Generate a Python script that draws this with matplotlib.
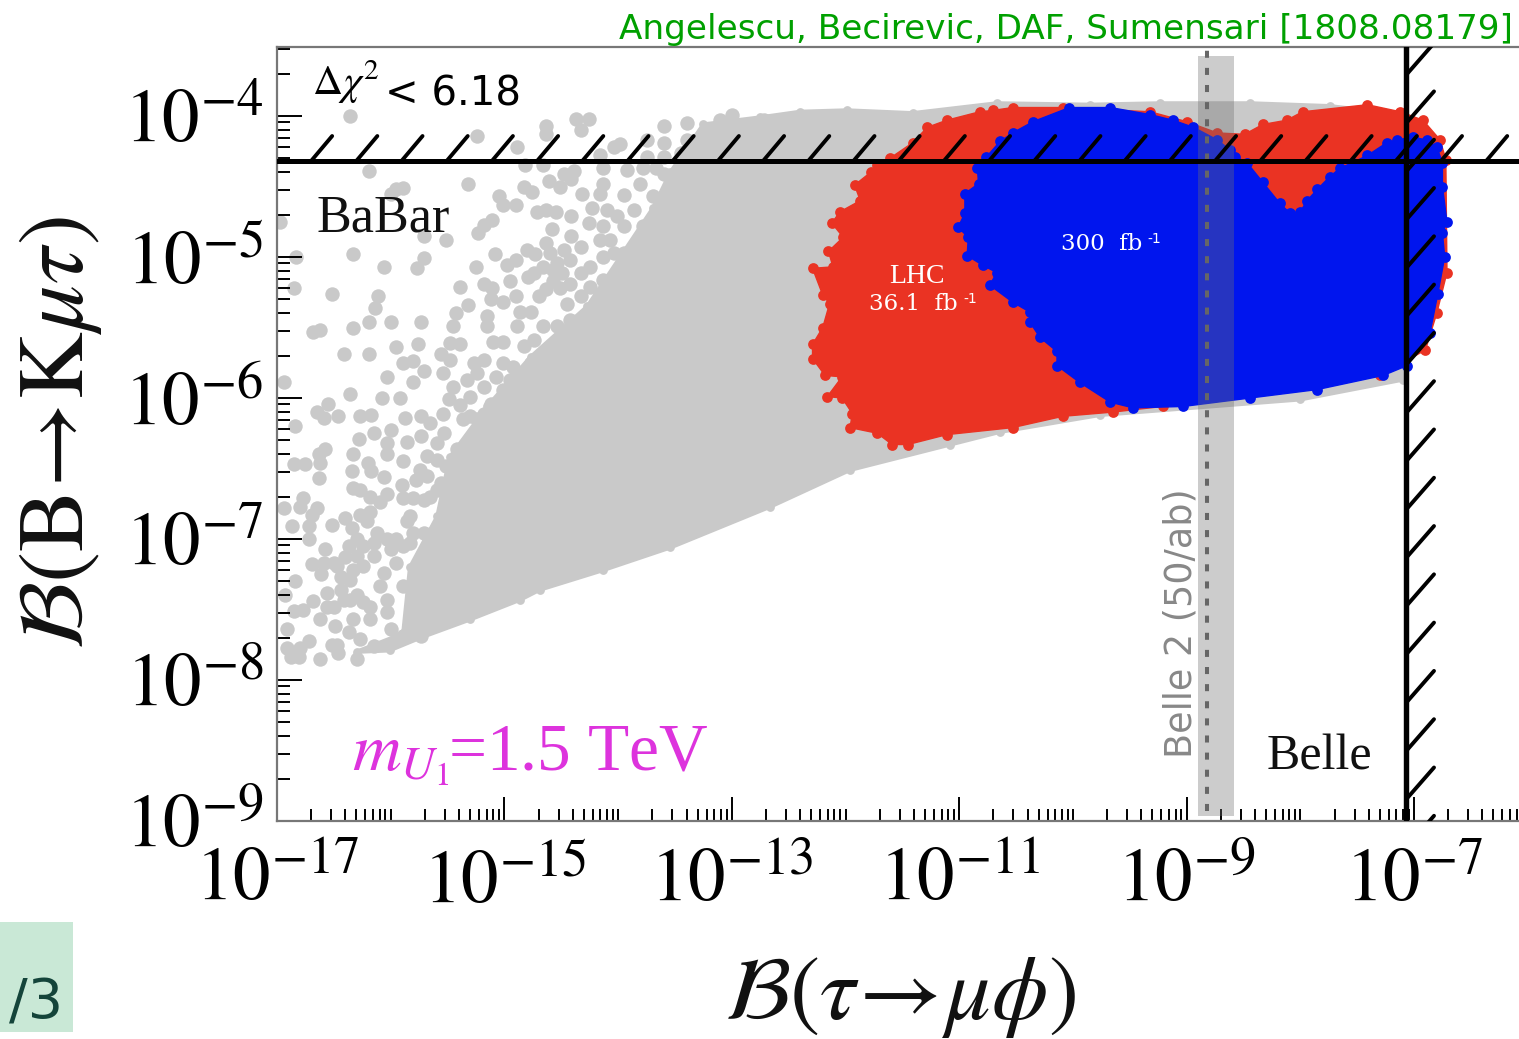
import numpy as np
import matplotlib
matplotlib.use("Agg")
import matplotlib.pyplot as plt
from matplotlib.patches import Rectangle
from matplotlib.transforms import ScaledTranslation

# ---- values, all as log10 of the branching ratios ----
gray_region_x = [-16.30,-16.01,-15.74,-15.30,-14.86,-14.69,-14.13,-13.54,-12.66,-11.96,-11.08,-10.64,-9.76,-8.00,-7.10,-7.12,-7.74,-8.44,-9.23,-9.85,-10.67,-11.41,-11.99,-12.40,-12.75,-13.25,-13.54,-13.69,-13.98,-14.27,-14.77,-15.15,-15.48,-15.59,-15.83,-15.89]
gray_region_y = [-7.80,-7.79,-7.70,-7.57,-7.43,-7.36,-7.22,-7.06,-6.77,-6.51,-6.33,-6.24,-6.12,-6.01,-5.87,-3.99,-3.93,-3.91,-3.91,-3.92,-3.91,-3.98,-3.96,-3.97,-4.01,-4.06,-4.40,-4.65,-5.00,-5.35,-5.71,-6.06,-6.42,-6.84,-7.20,-7.67]

gray_dots_x = [-16.36,-15.24,-14.89,-14.63,-14.63,-14.37,-14.26,-14.33,-16.19,-15.32,-15.95,-15.89,-16.00,-15.05,-15.01,-14.90,-14.83,-14.76,-14.61,-14.51,-14.48,-14.39,-14.41,-14.16,-14.04,-13.98,-14.82,-14.66,-14.13,-13.92,-13.78,-13.67,-14.13,-14.32,-14.23,-13.95,-14.16,-13.81,-14.71,-14.63,-14.55,-15.18,-15.11,-15.23,-15.71,-15.51,-14.58,-14.41,-14.26,-14.10,-14.01,-14.41,-14.16,-14.07,-14.63,-14.60,-15.08,-14.98,-14.90,-14.80,-14.73,-16.33,-15.71,-15.77,-16.06,-15.25,-14.79,-14.95,-15.18,-15.11,-15.39,-14.57,-14.49,-14.42,-14.25,-14.04,-16.52,-16.11,-16.85,-15.12,-15.01,-14.90,-14.70,-14.63,-14.51,-15.32,-15.43,-16.14,-16.19,-16.33,-16.00,-15.73,-16.68,-16.62,-15.15,-15.15,-14.86,-14.77,-15.45,-14.89,-15.01,-15.10,-14.66,-14.54,-14.45,-14.42,-15.95,-15.76,-16.41,-16.19,-15.48,-15.39,-15.56,-15.48,-15.18,-15.27,-14.92,-14.74,-14.83,-15.80,-15.89,-16.03,-15.71,-15.80,-15.54,-15.33,-15.45,-15.18,-16.36,-16.08,-15.92,-15.49,-16.55,-15.39,-16.65,-16.46,-16.59,-16.27,-16.17,-15.87,-15.73,-16.94,-15.01,-15.12,-14.80,-14.89,-14.54,-14.66,-14.57,-14.29,-14.10,-14.13,-14.42,-14.13,-16.97,-16.83,
-16.84,-16.15,-16.00,-16.28,-16.03,-15.86,-15.73,-15.59,-16.58,-16.63,-16.85,-16.75,-16.62,-16.33,-16.34,-16.20,-16.03,-15.89,-15.78,-16.17,-16.06,-16.63,-16.33,-16.27,-15.90,-15.89,-15.80,-16.03,-16.77,-16.80,-16.94,-16.65,-16.69,-16.09,-16.18,-16.27,-16.40,-16.52,-16.72,-16.87,-15.86,-16.03,-16.21,-16.12,-16.34,-16.72,-16.58,-16.37,-16.30,-16.40,-16.69,-16.59,-16.50,-16.61,-16.33,-16.44,-16.24,-16.84,-16.15,-16.06,-15.95,-16.56,-16.68,-16.85,-16.77,-16.93,-16.41,-16.62,-16.49,-16.91,-16.33,-16.18,-16.03,-16.72,-16.80,-16.91,-16.88,-16.81,-16.47,-16.52,-16.46,-16.62,-16.30,-16.37,-16.27,-16.15,-16.00,-15.89,-15.73,-16.03,-15.77,-15.65,-15.65,-15.59,-15.48,-15.48,-15.71,-15.89,-16.18,-15.83,-16.36,
-13.60,-13.39,-13.25,-13.10,-13.00,-12.84,-12.72,-13.60,-13.45,-13.10,-12.95,-13.75,
-15.53,-15.36,-15.30,-15.42,-15.51,-15.68,-15.74,-15.33,-15.24,-15.12,-15.59,-15.68,-15.71,-15.56,-15.83,-15.95,-15.80,-15.71,-15.89,-16.00,-16.24,-16.09,-16.30,-16.18,-16.36,-16.50,-16.56,-16.44,-16.24,-16.47,-16.30,-16.15,
-14.13,-13.95,-13.86,-13.69,-13.78,-13.95,-14.13,-14.33,-14.48,-14.54,-14.33,-14.66,-14.74,-14.57,-14.25,-14.33,-14.01,-14.01,-14.25,-13.98,-14.25,-14.42,-14.77,-15.01,-15.07,-15.24,-14.95,-14.71,-15.30,-15.18,-15.01,-14.83,-15.30,-15.54,-15.65,-14.63,-14.45,-14.33,-14.13,-13.83,-13.83,-13.60,-13.45,-13.25,-13.39,-13.13,-12.87,-12.66,-13.60,-13.75,-13.34]
gray_dots_y = [-4.00,-4.14,-4.22,-4.07,-4.13,-4.02,-4.02,-4.10,-4.39,-4.48,-4.52,-4.51,-4.55,-4.57,-4.63,-4.63,-4.50,-4.54,-4.46,-4.50,-4.41,-4.39,-4.45,-4.28,-4.22,-4.20,-4.35,-4.35,-4.37,-4.38,-4.37,-4.37,-4.48,-4.55,-4.65,-4.56,-4.55,-4.48,-4.68,-4.67,-4.68,-4.77,-4.74,-4.83,-4.85,-4.88,-4.80,-4.71,-4.76,-4.67,-4.71,-4.85,-4.88,-4.88,-4.90,-4.97,-4.98,-5.06,-5.02,-4.95,-4.98,-4.98,-5.01,-5.08,-5.07,-5.07,-5.14,-5.17,-5.19,-5.22,-5.21,-5.17,-5.11,-5.02,-5.07,-4.97,-5.26,-5.28,-5.22,-5.30,-5.32,-5.28,-5.28,-5.23,-5.22,-5.34,-5.40,-5.36,-5.46,-5.50,-5.46,-5.46,-5.53,-5.52,-5.42,-5.49,-5.39,-5.39,-5.49,-5.49,-5.60,-5.60,-5.49,-5.49,-5.33,-5.45,-5.64,-5.62,-5.69,-5.69,-5.61,-5.62,-5.69,-5.73,-5.73,-5.75,-5.78,-5.59,-5.63,-5.74,-5.75,-5.85,-5.81,-5.89,-5.82,-5.87,-5.92,-5.92,-5.97,-6.00,-6.00,-6.01,-6.04,-6.05,-6.10,-6.13,-6.14,-6.13,-6.12,-6.14,-6.13,-5.89,-5.94,-6.04,-5.87,-5.99,-5.82,-5.87,-5.63,-5.61,-5.33,-5.16,-5.19,-5.47,-4.75,-5.00,
-6.20,-6.25,-6.23,-6.29,-6.32,-6.31,-6.27,-6.32,-6.36,-6.40,-6.47,-6.47,-6.46,-6.40,-6.52,-6.46,-6.40,-6.45,-6.58,-6.52,-6.56,-6.57,-6.64,-6.65,-6.62,-6.71,-6.71,-6.68,-6.71,-6.77,-6.78,-6.78,-6.83,-6.74,-6.81,-6.83,-6.85,-6.90,-6.91,-6.91,-6.87,-7.00,-6.87,-6.96,-6.92,-7.00,-7.07,-7.05,-7.00,-7.13,-7.18,-7.17,-7.17,-7.25,-7.22,-7.27,-7.19,-7.30,-7.12,-7.24,-7.17,-7.38,-7.44,-7.51,-7.50,-7.40,-7.43,-7.57,-7.62,-7.64,-7.57,-7.48,-7.52,-7.72,-7.77,-7.77,-7.84,-7.84,-7.75,-7.75,-7.81,-7.85,-7.85,-7.66,-7.71,-7.76,-7.64,-7.69,-7.69,-7.43,-7.43,-7.05,-6.70,-6.65,-6.48,-6.72,-6.96,-7.33,-6.70,-7.03,-7.29,
-4.07,-4.05,-4.13,-4.03,-3.99,-4.07,-4.03,-4.19,-4.26,-4.15,-4.12,-4.17,
-6.25,-6.15,-6.29,-6.36,-6.48,-6.41,-6.51,-6.46,-6.15,-6.29,-6.44,-6.55,-6.72,-6.60,-6.84,-7.00,-6.96,-7.10,-7.05,-7.07,-7.05,-7.33,-7.40,-7.57,-7.43,-7.48,-7.48,-7.36,-7.45,-7.19,-7.12,-7.03,
-4.78,-4.78,-4.67,-4.57,-4.78,-4.97,-5.00,-4.93,-4.95,-5.04,-5.11,-5.07,-5.11,-5.09,-5.21,-5.28,-5.11,-5.28,-5.42,-5.49,-5.61,-5.71,-5.75,-5.75,-5.85,-5.82,-5.87,-5.97,-5.99,-6.11,-6.11,-6.13,-6.13,-6.11,-6.18,-6.08,-5.94,-5.80,-5.73,-5.11,-4.93,-4.41,-4.45,-4.43,-4.17,-4.24,-4.24,-4.17,-4.29,-4.29,-4.33]

red_x = [-10.70,-10.53,-10.09,-9.32,-9.00,-8.73,-8.49,-8.33,-8.12,-7.98,-7.41,-7.12,-6.92,-6.77,-6.72,-6.71,-6.80,-6.90,-7.30,-8.44,-9.21,-9.65,-10.09,-10.53,-11.11,-11.45,-11.59,-11.72,-11.96,-11.94,-12.03,-12.16,-12.03,-12.18,-12.29,-12.29,-12.20,-12.14,-12.20,-12.29,-12.11,-12.15,-12.02,-12.12,-12.05,-11.87,-11.92,-11.78,-11.72,-11.61,-11.41,-11.28,-11.11,-10.82]
red_y = [-3.96,-3.94,-3.94,-3.97,-4.04,-4.12,-4.13,-4.06,-4.03,-3.97,-3.92,-3.97,-4.03,-4.17,-4.31,-5.11,-5.40,-5.66,-5.84,-5.98,-6.06,-6.10,-6.13,-6.21,-6.26,-6.33,-6.33,-6.25,-6.21,-6.11,-6.00,-5.99,-5.85,-5.84,-5.72,-5.62,-5.50,-5.33,-5.27,-5.08,-5.07,-4.96,-4.86,-4.76,-4.68,-4.60,-4.49,-4.40,-4.35,-4.30,-4.19,-4.08,-4.03,-3.97]

blue_x = [-10.03,-9.67,-9.32,-9.12,-8.94,-8.73,-8.62,-8.57,-8.47,-8.33,-8.18,-8.09,-8.00,-7.94,-7.85,-7.74,-7.65,-7.54,-7.41,-7.24,-7.15,-7.01,-6.89,-6.80,-6.75,-6.75,-6.71,-6.75,-6.73,-6.79,-6.86,-7.06,-7.27,-7.85,-8.44,-9.03,-9.47,-9.67,-9.94,-10.14,-10.14,-10.29,-10.38,-10.38,-10.53,-10.73,-10.67,-10.79,-10.93,-10.92,-11.01,-10.95,-10.95,-10.83,-10.84,-10.76,-10.64,-10.53,-10.35]
blue_y = [-3.94,-3.94,-3.99,-4.03,-4.08,-4.17,-4.24,-4.29,-4.33,-4.47,-4.62,-4.69,-4.68,-4.60,-4.52,-4.43,-4.37,-4.33,-4.28,-4.19,-4.17,-4.15,-4.17,-4.22,-4.33,-4.50,-4.75,-4.83,-5.00,-5.26,-5.54,-5.77,-5.84,-5.94,-6.00,-6.06,-6.07,-6.03,-5.89,-5.77,-5.67,-5.57,-5.46,-5.39,-5.32,-5.20,-5.11,-5.06,-4.99,-4.86,-4.79,-4.69,-4.55,-4.48,-4.37,-4.29,-4.18,-4.12,-4.04]

babar_limit = -4.319
belle_limit = -7.07
belle2_reach = -8.82
belle2_band = [-8.90, -8.583]
belle2_span = [-8.965, -3.574]

x_major_exp = [-17, -15, -13, -11, -9, -7]
y_major_exp = [-9, -8, -7, -6, -5, -4]
x_tick_labels = ['$10^{-17}$', '$10^{-15}$', '$10^{-13}$', '$10^{-11}$', '$10^{-9}$', '$10^{-7}$']
y_tick_labels = ['$10^{-9}$', '$10^{-8}$', '$10^{-7}$', '$10^{-6}$', '$10^{-5}$', '$10^{-4}$']

# ---- page ----
W, H = 1519, 1039
plt.rcParams['mathtext.fontset'] = 'stix'
plt.rcParams['font.family'] = ['Liberation Serif', 'DejaVu Sans']
fig = plt.figure(figsize=(W / 100, H / 100), dpi=100)
ax = fig.add_axes([277 / W, 1 - 821 / H, (W - 277) / W, (821 - 47) / H])
ax.set_xscale('log')
ax.set_yscale('log')


def P(v):
    return 10.0 ** np.asarray(v)


GRAY, RED, BLUE = '#c9c9c9', '#ea3323', '#0015ee'
ax.fill(P(gray_region_x), P(gray_region_y), color=GRAY, lw=3, zorder=1)
ax.scatter(P(gray_region_x), P(gray_region_y), s=40, color=GRAY, lw=0, zorder=1)
ax.scatter(P(gray_dots_x), P(gray_dots_y), s=108, color=GRAY, lw=0, zorder=1)
ax.fill(P(red_x), P(red_y), color=RED, lw=1, zorder=2)
ax.scatter(P(red_x), P(red_y), s=60, color=RED, lw=0, zorder=2)
ax.fill(P(blue_x), P(blue_y), color=BLUE, lw=1, zorder=3)
ax.scatter(P(blue_x), P(blue_y), s=60, color=BLUE, lw=0, zorder=3)

# Belle 2 projection
ax.fill_betweenx(P(belle2_span), P(belle2_band[0]), P(belle2_band[1]),
                 color='#6f6f6f', alpha=0.35, lw=0, zorder=4)
ax.plot(P([belle2_reach, belle2_reach]), P([-8.93, -3.51]), color='#666666', lw=2.9,
        ls=(0, (1.75, 2.5)), dash_capstyle='butt', zorder=5)

# exclusion limits and hatching
ax.axhline(P(babar_limit), color='black', lw=3.6, zorder=6)
ax.axvline(P(belle_limit), color='black', lw=3.9, zorder=6)
for b in np.arange(-16.70, -6.0, 0.3975):
    ax.plot(P([b, b + 0.185]), P([babar_limit, babar_limit + 0.177]), color='black',
            lw=2.8, zorder=6, solid_capstyle='round')
for b in np.arange(-3.71, -9.3, -0.3425):
    ax.plot(P([belle_limit, belle_limit + 0.246]), P([b, b + 0.227]), color='black',
            lw=2.8, zorder=6, solid_capstyle='round')

# axes dressing
ax.set_xticks(P(x_major_exp))
ax.set_xticklabels(x_tick_labels)
ax.set_yticks(P(y_major_exp))
ax.set_yticklabels(y_tick_labels)
x_minor = [m * 10.0 ** e for e in range(-17, -6) for m in range(2, 10)] + [10.0 ** e for e in range(-16, -6, 2)]
y_minor = [m * 10.0 ** e for e in range(-9, -3) for m in range(2, 10)]
ax.set_xticks(x_minor, minor=True)
ax.set_yticks(y_minor, minor=True)
ax.set_xticklabels([], minor=True)
ax.set_yticklabels([], minor=True)
ax.set_xlim(1e-17, 10 ** (-17 + (W - 277) / 113.7))
ax.set_ylim(1e-9, 10 ** (-9 + (821 - 47) / 141))
ax.tick_params(axis='x', which='major', direction='in', length=17.3, width=1.4, pad=20, labelsize=54)
ax.tick_params(axis='x', which='minor', direction='in', length=8.6, width=1.4)
ax.tick_params(axis='y', which='major', direction='in', length=18, width=1.4, pad=10, labelsize=54)
ax.tick_params(axis='y', which='minor', direction='in', length=9.4, width=1.4)
shift = ScaledTranslation(0, 0, fig.dpi_scale_trans)
for lab in ax.get_yticklabels():
    lab.set_transform(lab.get_transform() + shift)
ax.spines['right'].set_visible(False)
for s in ('left', 'top', 'bottom'):
    ax.spines[s].set_color('#777777')
    ax.spines[s].set_linewidth(1.6)


def T(x, y, s, **kw):
    return fig.text(x / W, 1 - y / H, s, **kw)


T(1513, 39, 'Angelescu, Becirevic, DAF, Sumensari [1808.08179]', family='DejaVu Sans',
  fontsize=24.7, color='#00a000', ha='right', va='baseline')
T(312, 95, r'$\Delta\chi^2$', fontsize=30, color='black', va='baseline', zorder=8)
T(385, 105, '< 6.18', family='DejaVu Sans', fontsize=29, color='black', va='baseline')
T(317, 231, 'BaBar', fontsize=37.5, color='#111111', va='baseline')
T(1267, 770, 'Belle', fontsize=36, color='#111111', va='baseline')
T(352, 771, r'$m_{U_1}\!$=1.5 TeV', fontsize=48.5, color='#dd33dd', va='baseline')
T(1181, 758, 'Belle 2 (50/ab)', family='DejaVu Sans', fontsize=26.3, color='#888888',
  rotation=90, ha='center', va='bottom')
# signal labels
T(917, 283, 'LHC', fontsize=20, color='white', ha='center', va='baseline', zorder=9)
T(869, 310, '36.1  fb', family='DejaVu Serif', fontsize=16.5, color='white', va='baseline')
T(963, 303, '-1', family='DejaVu Sans', fontsize=10, color='white', va='baseline')
T(1061, 250, '300  fb', family='DejaVu Serif', fontsize=16.5, color='white', va='baseline')
T(1147, 243, '-1', family='DejaVu Sans', fontsize=10, color='white', va='baseline')
# axis titles
T(900, 1019, r'$\mathcal{B}(\tau\!\rightarrow\!\mu\phi)$', fontsize=65, color='#111111', ha='center', va='baseline')
T(60, 433, r'$\mathcal{B}(\mathrm{B}\!\rightarrow\!\mathrm{K}\mu\tau)$', fontsize=67, color='#111111',
  rotation=90, ha='center', va='center')
# clipped slide remnant bottom-left
fig.add_artist(Rectangle((0, 1 - 1032 / H), 73 / W, 110 / H, transform=fig.transFigure,
                         facecolor='#c9e8d6', edgecolor='none'))
T(63, 1019, '/3', family='DejaVu Sans', fontsize=40, color='#14443a', ha='right', va='baseline')

fig.savefig('out.png', dpi=100)
